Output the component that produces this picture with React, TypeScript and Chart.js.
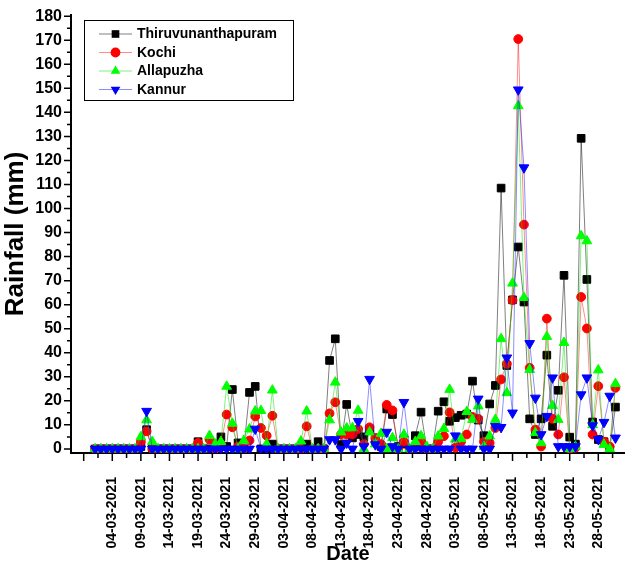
import React, { useEffect, useRef } from 'react';
import { Chart, registerables } from 'chart.js';

Chart.register(...registerables);

// ---------------- data ----------------
const startDate = '01-03-2021'; // first daily value
const seriesNames = ['Thiruvunanthapuram', 'Kochi', 'Allapuzha', 'Kannur'];

const thiruvunanthapuram = [
  0, 0, 0, 0, 0, 0, 0, 0, 1, 8,
  0, 0, 0, 0, 0, 0, 0, 0, 3, 0,
  0, 2, 5, 1, 24.7, 2.5, 0, 23.5, 26, 0,
  0, 2, 0, 0, 0, 0, 0, 2, 0, 3,
  0, 36.8, 45.8, 1.8, 18.5, 4.6, 6, 5, 8, 3,
  1, 16.6, 14.3, 1, 2, 0, 5.5, 15.3, 0, 0,
  15.7, 19.6, 11.5, 13, 14, 14.5, 28.2, 12, 5.5, 18.7,
  26.4, 108.5, 34.7, 62, 84, 61.1, 12.5, 6, 12.5, 39,
  9.4, 24.4, 72.2, 4.9, 2, 129.2, 70.5, 11.2, 3.9, 3,
  0, 17.4,
];
const kochi = [
  0, 0, 0, 0, 0, 0, 0, 0, 3, 7.3,
  0, 0, 0, 0, 0, 0, 0, 0, 2.5, 0,
  3.9, 0, 2, 14.3, 9, 1, 0, 3.5, 13.5, 8.7,
  5.5, 13.8, 0, 0, 0, 0, 0, 9.4, 0, 0,
  0, 14.8, 19.4, 6, 6, 6, 8.3, 2, 9, 4.6,
  2, 18.3, 16, 0, 3, 0, 1, 3, 0, 0,
  3, 5.3, 15.2, 0.5, 3, 6, 13.3, 12.5, 3, 2.5,
  8.7, 28.9, 35.4, 61.9, 170.5, 93.3, 33.7, 8, 1, 54.2,
  12.5, 6, 29.8, 0, 0.5, 63.2, 50.1, 6, 26.1, 3,
  1, 25.4,
];
const allapuzha = [
  0, 0, 0, 0, 0, 0, 0, 0, 5, 12,
  3, 0, 0, 0, 0, 0, 0, 0, 0, 0,
  5.5, 2, 3, 26, 10.6, 0, 3.5, 8.2, 15.7, 15.9,
  2, 24.4, 0, 0, 0, 0, 3.2, 15.7, 0, 0,
  0, 12, 27.7, 7, 8.7, 8.7, 16, 0, 7, 2,
  6.4, 0, 4.6, 0, 6, 0, 3, 5.4, 1, 0,
  5.3, 8.4, 24.7, 4, 4.2, 15.5, 12.2, 17.8, 1, 5.3,
  12.2, 45.8, 23.3, 68.9, 142.7, 62.9, 33, 6.7, 2.5, 46.7,
  18, 12.2, 44.2, 0, 1, 88.6, 86.5, 10, 32.8, 1.8,
  0, 27.1,
];
const kannur = [
  0, 0, 0, 0, 0, 0, 0, 0, 0, 15.7,
  0, 0, 0, 0, 0, 0, 0, 0, 0, 0,
  0, 0, 0, 0, 0, 0, 0, 0, 8.3, 0,
  0, 0, 0, 0, 0, 0, 0, 0, 0, 0,
  0, 3.9, 3.9, 0, 2.5, 0, 11.5, 1, 29, 1.8,
  0, 7, 1, 0, 19.4, 0, 0, 0, 0, 0,
  0, 0, 0, 5.5, 0, 0, 0, 20.8, 0, 0,
  9.4, 9, 37.9, 15, 149.4, 117, 43.9, 21.2, 6, 13.6,
  29.6, 1, 1, 1, 1, 22.6, 29.6, 9.7, 4, 11.1,
  22, 4.6,
];

const xTickLabels = [
  '04-03-2021', '09-03-2021', '14-03-2021', '19-03-2021', '24-03-2021', '29-03-2021',
  '03-04-2021', '08-04-2021', '13-04-2021', '18-04-2021', '23-04-2021', '28-04-2021',
  '03-05-2021', '08-05-2021', '13-05-2021', '18-05-2021', '23-05-2021', '28-05-2021',
];
const yTickValues = [0, 10, 20, 30, 40, 50, 60, 70, 80, 90, 100, 110, 120, 130, 140, 150, 160, 170, 180];

// ---------------- helpers ----------------
const DAY = 86400000;
function parseDate(s: string) {
  const [d, m, y] = s.split('-').map(Number);
  return Date.UTC(y, m - 1, d);
}
const t0 = parseDate(startDate);
const dayOf = (s: string) => Math.round((parseDate(s) - t0) / DAY);
const majorX = xTickLabels.map(dayOf);
const xStep = majorX[1] - majorX[0];
const xMajorAll = [majorX[0] - xStep, ...majorX];
const xMinor = xMajorAll.map((v) => v + xStep / 2);
const yStep = yTickValues[1] - yTickValues[0];
const yMinor = yTickValues.map((v) => v + yStep / 2).filter((v) => v < yTickValues[yTickValues.length - 1]);

const FONT = "'Liberation Sans', Arial, Helvetica, sans-serif";

const styles = [
  { pointStyle: 'rect', color: '#000000', line: 'rgba(0,0,0,0.5)', radius: 5.4, rotation: 0 },
  { pointStyle: 'circle', color: '#ff0000', line: 'rgba(255,0,0,0.45)', radius: 4.4, rotation: 0 },
  { pointStyle: 'triangle', color: '#00ff00', line: 'rgba(0,230,0,0.5)', radius: 5.6, rotation: 0 },
  { pointStyle: 'triangle', color: '#0000ff', line: 'rgba(0,0,255,0.45)', radius: 5.6, rotation: 180 },
];
const seriesValues = [thiruvunanthapuram, kochi, allapuzha, kannur];

function drawMarker(ctx: CanvasRenderingContext2D, kind: number, x: number, y: number) {
  const st = styles[kind];
  ctx.fillStyle = st.color;
  ctx.beginPath();
  const r = st.radius;
  if (st.pointStyle === 'rect') {
    const s = r * Math.SQRT1_2;
    ctx.rect(x - s, y - s, 2 * s, 2 * s);
  } else if (st.pointStyle === 'circle') {
    ctx.arc(x, y, r + 0.5, 0, Math.PI * 2);
  } else {
    const dir = st.rotation === 180 ? 1 : -1;
    ctx.moveTo(x, y + dir * r);
    ctx.lineTo(x + r * 0.866, y - dir * r * 0.5);
    ctx.lineTo(x - r * 0.866, y - dir * r * 0.5);
    ctx.closePath();
  }
  ctx.fill();
}

const ticksPlugin = {
  id: 'minorTicks',
  afterDraw(chart: any) {
    const { ctx } = chart;
    const xs = chart.scales.x;
    const ys = chart.scales.y;
    ctx.save();
    ctx.strokeStyle = '#000';
    ctx.lineWidth = 1.5;
    ctx.beginPath();
    xMajorAll.forEach((v) => {
      const p = xs.getPixelForValue(v);
      ctx.moveTo(p, xs.top);
      ctx.lineTo(p, xs.top + 8);
    });
    xMinor.forEach((v) => {
      const p = xs.getPixelForValue(v);
      if (p > xs.right) return;
      ctx.moveTo(p, xs.top);
      ctx.lineTo(p, xs.top + 5);
    });
    yTickValues.forEach((v) => {
      const p = ys.getPixelForValue(v);
      ctx.moveTo(ys.right, p);
      ctx.lineTo(ys.right - 7, p);
    });
    yMinor.forEach((v) => {
      const p = ys.getPixelForValue(v);
      ctx.moveTo(ys.right, p);
      ctx.lineTo(ys.right - 4, p);
    });
    ctx.stroke();
    ctx.restore();
  },
};

const legendPlugin = {
  id: 'boxLegend',
  afterDraw(chart: any) {
    const { ctx, chartArea } = chart;
    const left = chartArea.left + 13;
    const top = chartArea.top + 5;
    const w = 209;
    const h = 80;
    ctx.save();
    ctx.fillStyle = '#ffffff';
    ctx.fillRect(left, top, w, h);
    ctx.strokeStyle = '#000';
    ctx.lineWidth = 1;
    ctx.strokeRect(left + 0.5, top + 0.5, w, h);
    seriesNames.forEach((name, i) => {
      const y = top + 14 + i * 18.5;
      ctx.strokeStyle = styles[i].line;
      ctx.lineWidth = 1;
      ctx.beginPath();
      ctx.moveTo(left + 15, y);
      ctx.lineTo(left + 48, y);
      ctx.stroke();
      drawMarker(ctx, i, left + 31.5, y);
      ctx.fillStyle = '#000';
      ctx.font = `bold 14px ${FONT}`;
      ctx.textBaseline = 'middle';
      ctx.textAlign = 'left';
      ctx.fillText(name, left + 53, y + 0.5);
    });
    ctx.restore();
  },
};

function noPadding(scale: any) {
  scale._calculatePadding = function () {
    this.paddingLeft = 0;
    this.paddingRight = 0;
    this.paddingTop = 0;
    this.paddingBottom = 0;
  };
}

export default function App() {
  const ref = useRef<HTMLCanvasElement | null>(null);
  useEffect(() => {
    if (!ref.current) return;
    document.body.style.margin = '0';
    const datasets = seriesValues.map((vals, i) => ({
      label: seriesNames[i],
      data: vals.map((v, d) => ({ x: d, y: v })),
      borderColor: styles[i].line,
      backgroundColor: styles[i].color,
      borderWidth: 1,
      pointStyle: styles[i].pointStyle,
      pointRadius: styles[i].radius,
      pointRotation: styles[i].rotation,
      pointBackgroundColor: styles[i].color,
      pointBorderColor: styles[i].color,
      pointBorderWidth: 1,
      tension: 0,
      order: seriesNames.length - 1 - i,
    }));
    const chart = new Chart(ref.current, {
      type: 'line',
      data: { datasets },
      plugins: [ticksPlugin, legendPlugin],
      options: {
        animation: false,
        responsive: false,
        layout: { autoPadding: false, padding: { left: 0, right: 0, top: 15, bottom: 0 } },
        plugins: { legend: { display: false }, tooltip: { enabled: false } },
        scales: {
          x: {
            type: 'linear',
            min: -4.22,
            max: 92.67,
            beforeFit: noPadding,
            afterBuildTicks: (scale: any) => {
              scale.ticks = xMajorAll.map((v) => ({ value: v }));
            },
            afterFit: (scale: any) => {
              scale.height = 113;
            },
            grid: { display: false, drawTicks: true, tickLength: 8 },
            border: { display: true, color: '#000', width: 2 },
            ticks: {
              autoSkip: false,
              minRotation: 90,
              maxRotation: 90,
              padding: 16,
              color: '#000',
              font: { family: FONT, size: 14, weight: 'bold' },
              callback: (value: any) => {
                const idx = majorX.indexOf(value);
                return idx >= 0 ? xTickLabels[idx] : '';
              },
            },
            title: {
              display: true,
              text: 'Date',
              color: '#000',
              font: { family: FONT, size: 20, weight: 'bold' },
              padding: { top: 0, bottom: 0 },
            },
          },
          y: {
            type: 'linear',
            min: -1.7,
            max: 180.5,
            beforeFit: noPadding,
            afterBuildTicks: (scale: any) => {
              scale.ticks = yTickValues.map((v) => ({ value: v }));
            },
            afterFit: (scale: any) => {
              scale.width = 71;
            },
            grid: { display: false, drawTicks: true, tickLength: 7 },
            border: { display: true, color: '#000', width: 2 },
            ticks: {
              padding: 2,
              color: '#000',
              font: { family: FONT, size: 16, weight: 'bold' },
              callback: (value: any) => String(value),
            },
            title: {
              display: true,
              text: 'Rainfall (mm)',
              color: '#000',
              font: { family: FONT, size: 26, weight: 'bold' },
              padding: { top: 0, bottom: 0 },
            },
          },
        },
      },
    });
    return () => chart.destroy();
  }, []);
  return (
    <div style={{ position: 'absolute', left: 0, top: 0, width: 625, height: 566, background: '#fff' }}>
      <canvas ref={ref} width={625} height={566} />
    </div>
  );
}
